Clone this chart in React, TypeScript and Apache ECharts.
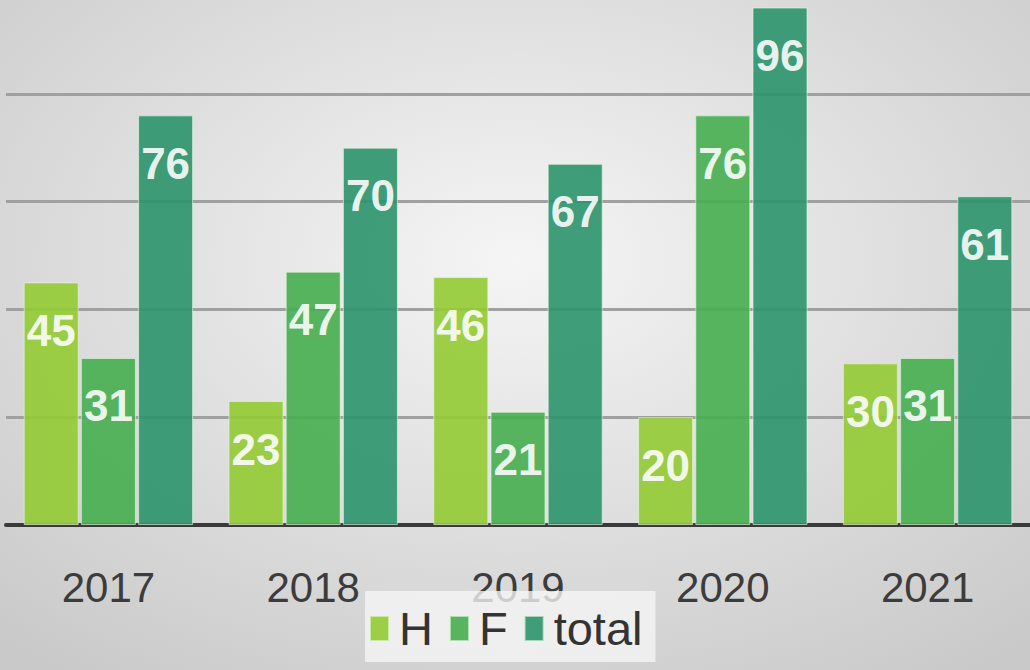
import React, { useEffect, useRef } from "react";
import * as echarts from "echarts";

const categories = ["2017", "2018", "2019", "2020", "2021"];
const seriesNames = ["H", "F", "total"];
const hValues = [45, 23, 46, 20, 30];
const fValues = [31, 47, 21, 76, 31];
const totalValues = [76, 70, 67, 96, 61];
const colors = ["#92ca33", "#46ae4f", "#2c946b"];

const FONT = "'Liberation Sans', Arial, sans-serif";

export default function App() {
  const ref = useRef<HTMLDivElement>(null);
  useEffect(() => {
    if (!ref.current) return;
    const chart = echarts.init(ref.current, null, { renderer: "svg" });
    const mk = (name: string, data: number[], color: string) => ({
      name,
      type: "bar",
      data,
      barWidth: 55,
      barGap: "4%",
      itemStyle: { color, opacity: 0.9, borderColor: "rgba(230,245,225,0.7)", borderWidth: 1 },
      label: {
        show: true,
        position: ["50%", 48],
        align: "center",
        verticalAlign: "middle",
        color: "#ffffff",
        fontFamily: FONT,
        fontWeight: "bold",
        fontSize: 44,
      },
    });
    chart.setOption({
      animation: false,
      backgroundColor: {
        type: "radial",
        x: 0.5,
        y: 0.4,
        r: 0.75,
        colorStops: [
          { offset: 0, color: "#f5f5f5" },
          { offset: 1, color: "#c9c9c9" },
        ],
      },
      grid: { left: 6, right: -3, top: 0, bottom: 145, containLabel: false },
      legend: {
        data: seriesNames,
        left: 365,
        top: 605,
        padding: [14, 13, 10, 4],
        backgroundColor: "rgba(246,246,246,0.78)",
        icon: "rect",
        itemWidth: 19,
        itemHeight: 25,
        itemGap: 16,
        textStyle: {
          fontFamily: FONT,
          fontSize: 47,
          color: "#333333",
          padding: [0, 0, 0, 5],
        },
      },
      xAxis: {
        type: "category",
        data: categories,
        axisLine: { show: true, lineStyle: { color: "#3a3a3a", width: 4 } },
        axisTick: { show: false },
        axisLabel: {
          margin: 41,
          fontFamily: FONT,
          fontSize: 42,
          color: "#3c3c3c",
        },
      },
      yAxis: {
        type: "value",
        min: 0,
        max: 100,
        interval: 20,
        axisLabel: { show: false },
        axisLine: { show: false },
        axisTick: { show: false },
        splitLine: { show: true, lineStyle: { color: "#a0a0a0", width: 3 } },
      },
      series: [
        mk(seriesNames[0], hValues, colors[0]),
        mk(seriesNames[1], fValues, colors[1]),
        mk(seriesNames[2], totalValues, colors[2]),
      ],
    });
    return () => chart.dispose();
  }, []);
  return (
    <div
      ref={ref}
      style={{ position: "absolute", left: 0, top: -14, width: 1030, height: 684 }}
    />
  );
}
